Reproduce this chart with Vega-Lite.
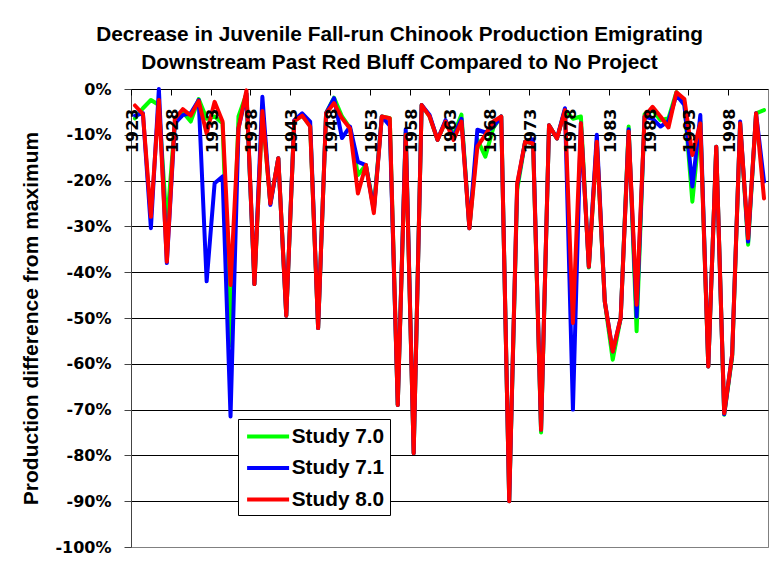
{
  "$schema": "https://vega.github.io/schema/vega-lite/v6.json",
  "width": 637,
  "height": 458,
  "autosize": {"type": "none"},
  "padding": {"left": 131, "top": 89, "right": 9, "bottom": 30},
  "background": "white",
  "config": {"view": {"stroke": "#808080", "strokeWidth": 1}},
  "title": {
    "text": ["Decrease in Juvenile Fall-run Chinook Production Emigrating", "Downstream Past Red Bluff Compared to No Project"],
    "font": "Liberation Sans", "fontSize": 20.8, "fontWeight": "bold", "color": "black",
    "anchor": "middle", "frame": "group", "dx": -50, "lineHeight": 28, "offset": 7
  },
  "data": {"values": [
    {"year":1923,"series":"Study 7.0","value":-6.4},{"year":1924,"series":"Study 7.0","value":-4.2},{"year":1925,"series":"Study 7.0","value":-2.4},{"year":1926,"series":"Study 7.0","value":-3.5},{"year":1927,"series":"Study 7.0","value":-30},{"year":1928,"series":"Study 7.0","value":-7.5},{"year":1929,"series":"Study 7.0","value":-5.0},{"year":1930,"series":"Study 7.0","value":-7.1},{"year":1931,"series":"Study 7.0","value":-2.2},{"year":1932,"series":"Study 7.0","value":-6.5},
    {"year":1933,"series":"Study 7.0","value":-6.0},{"year":1934,"series":"Study 7.0","value":-7.5},{"year":1935,"series":"Study 7.0","value":-56},{"year":1936,"series":"Study 7.0","value":-6.0},{"year":1937,"series":"Study 7.0","value":-1.0},{"year":1938,"series":"Study 7.0","value":-42.6},{"year":1939,"series":"Study 7.0","value":-4.8},{"year":1940,"series":"Study 7.0","value":-25.0},{"year":1941,"series":"Study 7.0","value":-15.1},{"year":1942,"series":"Study 7.0","value":-49.5},
    {"year":1943,"series":"Study 7.0","value":-7.0},{"year":1944,"series":"Study 7.0","value":-5.8},{"year":1945,"series":"Study 7.0","value":-8.0},{"year":1946,"series":"Study 7.0","value":-52.2},{"year":1947,"series":"Study 7.0","value":-5.3},{"year":1948,"series":"Study 7.0","value":-1.9},{"year":1949,"series":"Study 7.0","value":-6.0},{"year":1950,"series":"Study 7.0","value":-8.5},{"year":1951,"series":"Study 7.0","value":-18.8},{"year":1952,"series":"Study 7.0","value":-16.6},
    {"year":1953,"series":"Study 7.0","value":-26.0},{"year":1954,"series":"Study 7.0","value":-6.0},{"year":1955,"series":"Study 7.0","value":-6.4},{"year":1956,"series":"Study 7.0","value":-69.0},{"year":1957,"series":"Study 7.0","value":-9.5},{"year":1958,"series":"Study 7.0","value":-79.5},{"year":1959,"series":"Study 7.0","value":-3.5},{"year":1960,"series":"Study 7.0","value":-6.0},{"year":1961,"series":"Study 7.0","value":-11.1},{"year":1962,"series":"Study 7.0","value":-7.1},
    {"year":1963,"series":"Study 7.0","value":-10.0},{"year":1964,"series":"Study 7.0","value":-5.6},{"year":1965,"series":"Study 7.0","value":-30.4},{"year":1966,"series":"Study 7.0","value":-11.0},{"year":1967,"series":"Study 7.0","value":-14.8},{"year":1968,"series":"Study 7.0","value":-8.5},{"year":1969,"series":"Study 7.0","value":-6.0},{"year":1970,"series":"Study 7.0","value":-90.0},{"year":1971,"series":"Study 7.0","value":-22.0},{"year":1972,"series":"Study 7.0","value":-11.5},
    {"year":1973,"series":"Study 7.0","value":-11.9},{"year":1974,"series":"Study 7.0","value":-75.0},{"year":1975,"series":"Study 7.0","value":-7.9},{"year":1976,"series":"Study 7.0","value":-10.8},{"year":1977,"series":"Study 7.0","value":-4.6},{"year":1978,"series":"Study 7.0","value":-6.5},{"year":1979,"series":"Study 7.0","value":-6.0},{"year":1980,"series":"Study 7.0","value":-39.0},{"year":1981,"series":"Study 7.0","value":-11.5},{"year":1982,"series":"Study 7.0","value":-46.4},
    {"year":1983,"series":"Study 7.0","value":-59.1},{"year":1984,"series":"Study 7.0","value":-50.0},{"year":1985,"series":"Study 7.0","value":-8.2},{"year":1986,"series":"Study 7.0","value":-52.9},{"year":1987,"series":"Study 7.0","value":-5.5},{"year":1988,"series":"Study 7.0","value":-4.6},{"year":1989,"series":"Study 7.0","value":-6.8},{"year":1990,"series":"Study 7.0","value":-6.4},{"year":1991,"series":"Study 7.0","value":-0.7},{"year":1992,"series":"Study 7.0","value":-3.0},
    {"year":1993,"series":"Study 7.0","value":-24.6},{"year":1994,"series":"Study 7.0","value":-7.0},{"year":1995,"series":"Study 7.0","value":-60.6},{"year":1996,"series":"Study 7.0","value":-12.6},{"year":1997,"series":"Study 7.0","value":-71.1},{"year":1998,"series":"Study 7.0","value":-58.5},{"year":1999,"series":"Study 7.0","value":-7.5},{"year":2000,"series":"Study 7.0","value":-34.0},{"year":2001,"series":"Study 7.0","value":-5.3},{"year":2002,"series":"Study 7.0","value":-4.6},

    {"year":1923,"series":"Study 7.1","value":-5.8},{"year":1924,"series":"Study 7.1","value":-5.3},{"year":1925,"series":"Study 7.1","value":-30.4},{"year":1926,"series":"Study 7.1","value":0},{"year":1927,"series":"Study 7.1","value":-38.0},{"year":1928,"series":"Study 7.1","value":-7.5},{"year":1929,"series":"Study 7.1","value":-5.7},{"year":1930,"series":"Study 7.1","value":-5.3},{"year":1931,"series":"Study 7.1","value":-2.4},{"year":1932,"series":"Study 7.1","value":-42.0},
    {"year":1933,"series":"Study 7.1","value":-20.6},{"year":1934,"series":"Study 7.1","value":-19.1},{"year":1935,"series":"Study 7.1","value":-71.5},{"year":1936,"series":"Study 7.1","value":-8.6},{"year":1937,"series":"Study 7.1","value":-1.0},{"year":1938,"series":"Study 7.1","value":-42.6},{"year":1939,"series":"Study 7.1","value":-1.7},{"year":1940,"series":"Study 7.1","value":-25.3},{"year":1941,"series":"Study 7.1","value":-15.1},{"year":1942,"series":"Study 7.1","value":-49.5},
    {"year":1943,"series":"Study 7.1","value":-6.8},{"year":1944,"series":"Study 7.1","value":-5.3},{"year":1945,"series":"Study 7.1","value":-7.1},{"year":1946,"series":"Study 7.1","value":-52.2},{"year":1947,"series":"Study 7.1","value":-5.3},{"year":1948,"series":"Study 7.1","value":-2.0},{"year":1949,"series":"Study 7.1","value":-10.7},{"year":1950,"series":"Study 7.1","value":-8.2},{"year":1951,"series":"Study 7.1","value":-15.9},{"year":1952,"series":"Study 7.1","value":-16.6},
    {"year":1953,"series":"Study 7.1","value":-26.5},{"year":1954,"series":"Study 7.1","value":-6.0},{"year":1955,"series":"Study 7.1","value":-8.0},{"year":1956,"series":"Study 7.1","value":-69.0},{"year":1957,"series":"Study 7.1","value":-8.8},{"year":1958,"series":"Study 7.1","value":-79.5},{"year":1959,"series":"Study 7.1","value":-3.5},{"year":1960,"series":"Study 7.1","value":-5.7},{"year":1961,"series":"Study 7.1","value":-11.1},{"year":1962,"series":"Study 7.1","value":-6.8},
    {"year":1963,"series":"Study 7.1","value":-10.5},{"year":1964,"series":"Study 7.1","value":-6.5},{"year":1965,"series":"Study 7.1","value":-30.4},{"year":1966,"series":"Study 7.1","value":-8.9},{"year":1967,"series":"Study 7.1","value":-9.5},{"year":1968,"series":"Study 7.1","value":-8.2},{"year":1969,"series":"Study 7.1","value":-6.0},{"year":1970,"series":"Study 7.1","value":-90.0},{"year":1971,"series":"Study 7.1","value":-21.0},{"year":1972,"series":"Study 7.1","value":-11.5},
    {"year":1973,"series":"Study 7.1","value":-11.0},{"year":1974,"series":"Study 7.1","value":-74.4},{"year":1975,"series":"Study 7.1","value":-7.9},{"year":1976,"series":"Study 7.1","value":-10.8},{"year":1977,"series":"Study 7.1","value":-4.2},{"year":1978,"series":"Study 7.1","value":-70.0},{"year":1979,"series":"Study 7.1","value":-7.5},{"year":1980,"series":"Study 7.1","value":-38.8},{"year":1981,"series":"Study 7.1","value":-10.0},{"year":1982,"series":"Study 7.1","value":-46.4},
    {"year":1983,"series":"Study 7.1","value":-57.3},{"year":1984,"series":"Study 7.1","value":-50.0},{"year":1985,"series":"Study 7.1","value":-8.8},{"year":1986,"series":"Study 7.1","value":-49.7},{"year":1987,"series":"Study 7.1","value":-6.0},{"year":1988,"series":"Study 7.1","value":-6.5},{"year":1989,"series":"Study 7.1","value":-8.2},{"year":1990,"series":"Study 7.1","value":-7.0},{"year":1991,"series":"Study 7.1","value":-1.3},{"year":1992,"series":"Study 7.1","value":-3.5},
    {"year":1993,"series":"Study 7.1","value":-21.3},{"year":1994,"series":"Study 7.1","value":-5.7},{"year":1995,"series":"Study 7.1","value":-60.6},{"year":1996,"series":"Study 7.1","value":-12.6},{"year":1997,"series":"Study 7.1","value":-71.0},{"year":1998,"series":"Study 7.1","value":-58.0},{"year":1999,"series":"Study 7.1","value":-7.1},{"year":2000,"series":"Study 7.1","value":-33.3},{"year":2001,"series":"Study 7.1","value":-5.3},{"year":2002,"series":"Study 7.1","value":-20.2},

    {"year":1923,"series":"Study 8.0","value":-3.6},{"year":1924,"series":"Study 8.0","value":-5.5},{"year":1925,"series":"Study 8.0","value":-27.9},{"year":1926,"series":"Study 8.0","value":-2.4},{"year":1927,"series":"Study 8.0","value":-37.7},{"year":1928,"series":"Study 8.0","value":-6.5},{"year":1929,"series":"Study 8.0","value":-4.4},{"year":1930,"series":"Study 8.0","value":-5.8},{"year":1931,"series":"Study 8.0","value":-2.6},{"year":1932,"series":"Study 8.0","value":-9.7},
    {"year":1933,"series":"Study 8.0","value":-2.8},{"year":1934,"series":"Study 8.0","value":-7.1},{"year":1935,"series":"Study 8.0","value":-42.8},{"year":1936,"series":"Study 8.0","value":-8.6},{"year":1937,"series":"Study 8.0","value":-0.3},{"year":1938,"series":"Study 8.0","value":-42.6},{"year":1939,"series":"Study 8.0","value":-4.8},{"year":1940,"series":"Study 8.0","value":-25.0},{"year":1941,"series":"Study 8.0","value":-15.1},{"year":1942,"series":"Study 8.0","value":-49.5},
    {"year":1943,"series":"Study 8.0","value":-7.0},{"year":1944,"series":"Study 8.0","value":-5.8},{"year":1945,"series":"Study 8.0","value":-8.2},{"year":1946,"series":"Study 8.0","value":-52.2},{"year":1947,"series":"Study 8.0","value":-5.3},{"year":1948,"series":"Study 8.0","value":-3.1},{"year":1949,"series":"Study 8.0","value":-6.4},{"year":1950,"series":"Study 8.0","value":-8.6},{"year":1951,"series":"Study 8.0","value":-22.8},{"year":1952,"series":"Study 8.0","value":-16.6},
    {"year":1953,"series":"Study 8.0","value":-27.1},{"year":1954,"series":"Study 8.0","value":-6.0},{"year":1955,"series":"Study 8.0","value":-6.4},{"year":1956,"series":"Study 8.0","value":-69.0},{"year":1957,"series":"Study 8.0","value":-10.0},{"year":1958,"series":"Study 8.0","value":-79.5},{"year":1959,"series":"Study 8.0","value":-3.5},{"year":1960,"series":"Study 8.0","value":-6.0},{"year":1961,"series":"Study 8.0","value":-11.1},{"year":1962,"series":"Study 8.0","value":-7.1},
    {"year":1963,"series":"Study 8.0","value":-11.1},{"year":1964,"series":"Study 8.0","value":-7.1},{"year":1965,"series":"Study 8.0","value":-30.4},{"year":1966,"series":"Study 8.0","value":-12.6},{"year":1967,"series":"Study 8.0","value":-10.0},{"year":1968,"series":"Study 8.0","value":-7.1},{"year":1969,"series":"Study 8.0","value":-6.0},{"year":1970,"series":"Study 8.0","value":-90.0},{"year":1971,"series":"Study 8.0","value":-20.6},{"year":1972,"series":"Study 8.0","value":-11.5},
    {"year":1973,"series":"Study 8.0","value":-11.9},{"year":1974,"series":"Study 8.0","value":-74.4},{"year":1975,"series":"Study 8.0","value":-7.9},{"year":1976,"series":"Study 8.0","value":-10.8},{"year":1977,"series":"Study 8.0","value":-4.6},{"year":1978,"series":"Study 8.0","value":-51.1},{"year":1979,"series":"Study 8.0","value":-7.5},{"year":1980,"series":"Study 8.0","value":-38.8},{"year":1981,"series":"Study 8.0","value":-11.5},{"year":1982,"series":"Study 8.0","value":-46.4},
    {"year":1983,"series":"Study 8.0","value":-57.3},{"year":1984,"series":"Study 8.0","value":-50.0},{"year":1985,"series":"Study 8.0","value":-9.3},{"year":1986,"series":"Study 8.0","value":-47.1},{"year":1987,"series":"Study 8.0","value":-6.0},{"year":1988,"series":"Study 8.0","value":-3.9},{"year":1989,"series":"Study 8.0","value":-6.0},{"year":1990,"series":"Study 8.0","value":-8.4},{"year":1991,"series":"Study 8.0","value":-0.7},{"year":1992,"series":"Study 8.0","value":-2.2},
    {"year":1993,"series":"Study 8.0","value":-14.4},{"year":1994,"series":"Study 8.0","value":-7.5},{"year":1995,"series":"Study 8.0","value":-60.6},{"year":1996,"series":"Study 8.0","value":-12.6},{"year":1997,"series":"Study 8.0","value":-70.8},{"year":1998,"series":"Study 8.0","value":-58.0},{"year":1999,"series":"Study 8.0","value":-7.5},{"year":2000,"series":"Study 8.0","value":-32.6},{"year":2001,"series":"Study 8.0","value":-5.3},{"year":2002,"series":"Study 8.0","value":-23.9}
  ]},
  "mark": {"type": "line", "strokeWidth": 4, "strokeJoin": "round", "strokeCap": "round"},
  "encoding": {
    "x": {
      "field": "year", "type": "quantitative",
      "scale": {"domain": [1922.5, 2002.5], "nice": false, "zero": false},
      "axis": {
        "orient": "bottom", "offset": -458, "title": null, "zindex": 1,
        "values": [1923,1928,1933,1938,1943,1948,1953,1958,1963,1968,1973,1978,1983,1988,1993,1998],
        "format": "d", "labelAngle": -90, "labelAlign": "right", "labelBaseline": "middle",
        "labelFont": "DejaVu Sans", "labelFontSize": 16, "labelFontWeight": "bold", "labelColor": "black",
        "labelPadding": 13, "tickSize": 6, "tickColor": "black", "tickOffset": -4, "labelOffset": 1.5,
        "domain": false, "grid": false, "labelFlush": false, "labelOverlap": false, "labelBound": false
      }
    },
    "y": {
      "field": "value", "type": "quantitative",
      "scale": {"domain": [-100, 0], "nice": false},
      "axis": {
        "values": [0,-10,-20,-30,-40,-50,-60,-70,-80,-90,-100],
        "labelExpr": "datum.value + '%'",
        "labelFont": "DejaVu Sans", "labelFontSize": 16, "labelFontWeight": "bold", "labelColor": "black",
        "labelPadding": 13, "tickSize": 7, "tickColor": "#444444", "domainColor": "#444444",
        "grid": true, "gridOpacity": 1,
        "gridColor": {"condition": {"test": "datum.value == -100", "value": "#808080"}, "value": "black"},
        "title": "Production difference from maximum",
        "titleFont": "Liberation Sans", "titleFontSize": 21, "titleFontWeight": "bold", "titleColor": "black",
        "titlePadding": 13
      }
    },
    "color": {
      "field": "series", "type": "nominal",
      "scale": {"domain": ["Study 7.0", "Study 7.1", "Study 8.0"], "range": ["#00FF00", "#0000FF", "#FF0000"]},
      "legend": {
        "orient": "none", "legendX": 107, "legendY": 330, "title": null,
        "strokeColor": "black", "fillColor": "white", "padding": 5,
        "symbolType": "M-0.8,0H3.2", "symbolStrokeWidth": 4, "symbolSize": 441,
        "labelFont": "Liberation Sans", "labelFontSize": 20.8, "labelFontWeight": "bold", "labelColor": "black",
        "rowPadding": 8.5, "labelOffset": 23.7
      }
    }
  }
}
